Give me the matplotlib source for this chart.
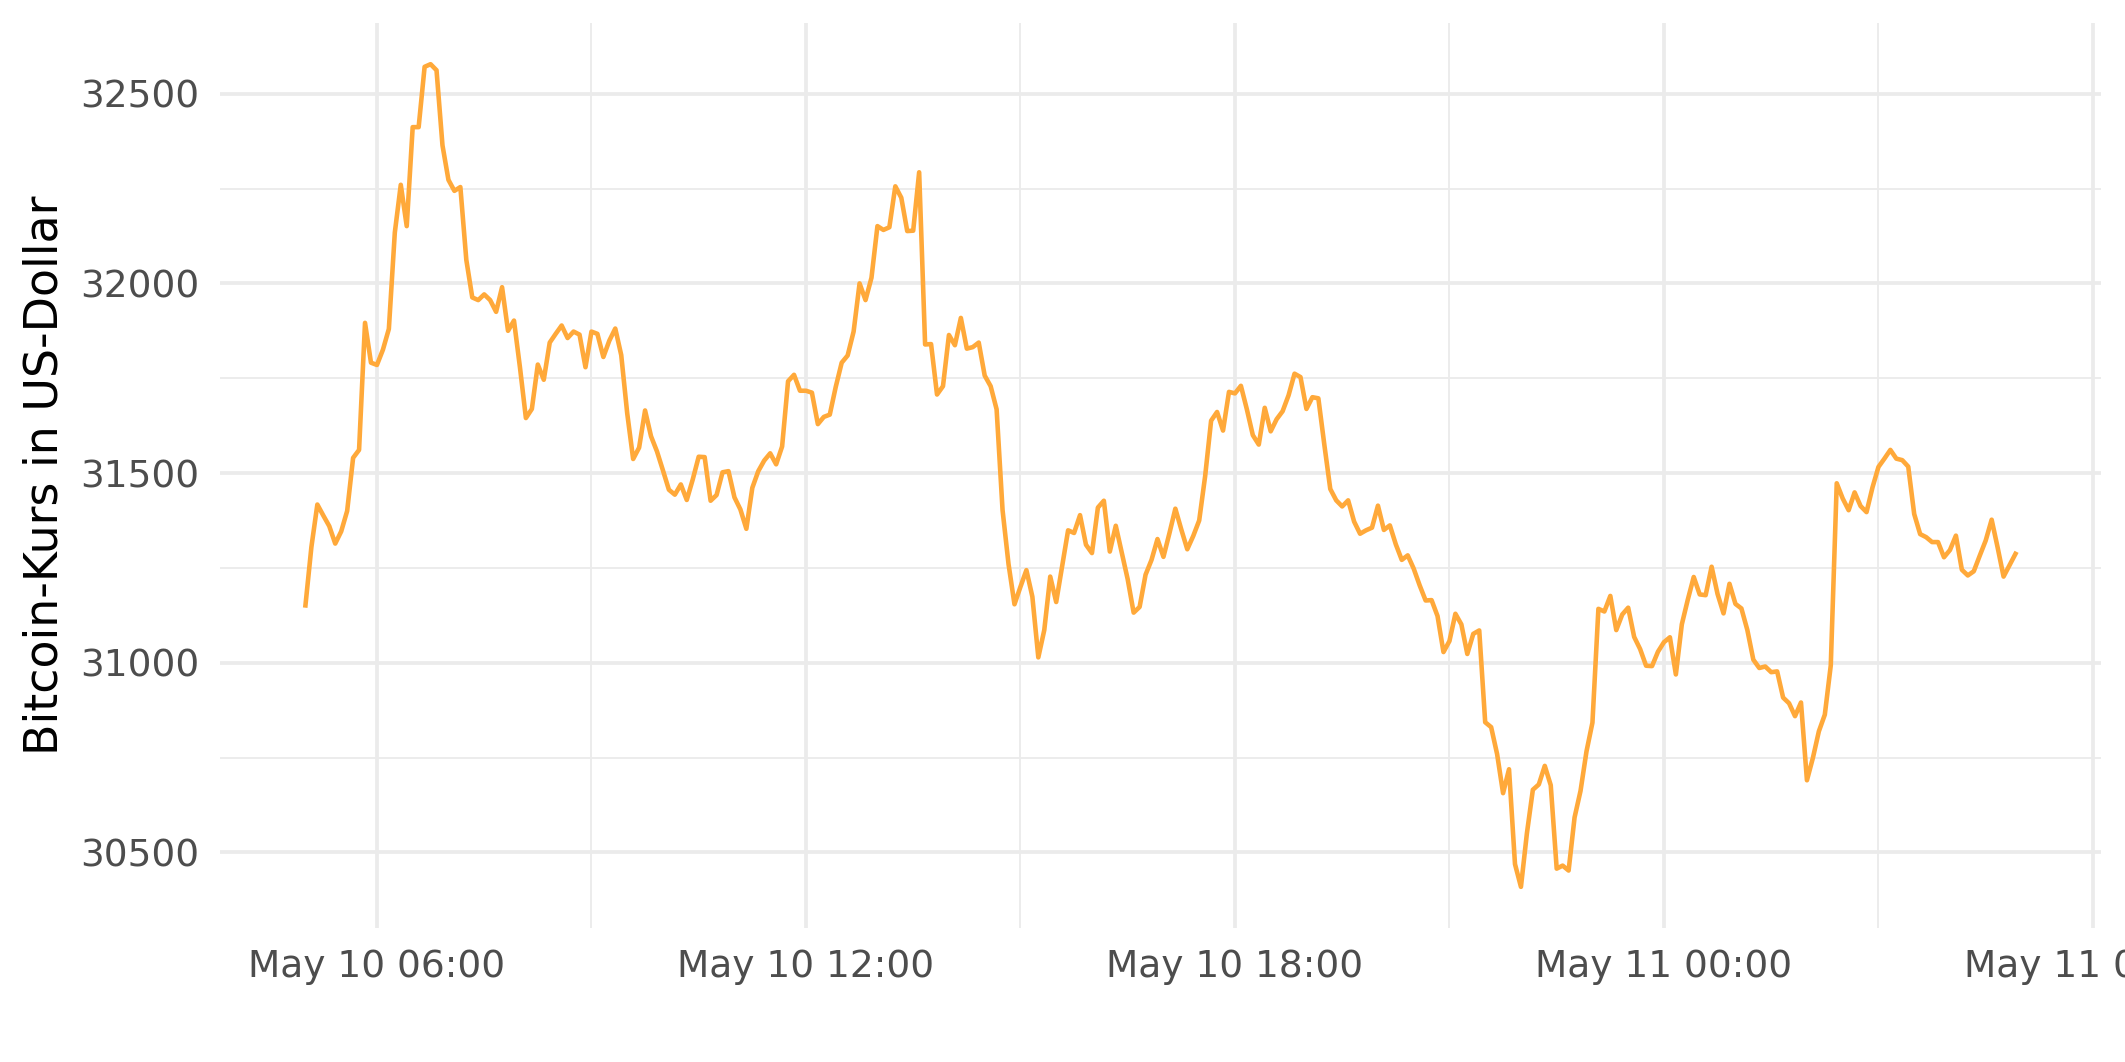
import numpy as np
import pandas as pd
import matplotlib
matplotlib.use("Agg")
import matplotlib.pyplot as plt
import matplotlib.dates as mdates

# Bitcoin-Kurs, 5-Minuten-Werte ab 10. Mai 05:00
start = "2022-05-10 05:00"
kurs = [
    31151, 31305, 31417, 31388, 31360, 31314, 31346, 31400, 31540, 31561,
    31896, 31791, 31785, 31825, 31880, 32134, 32260, 32151, 32412, 32412,
    32571, 32578, 32562, 32364, 32273, 32244, 32254, 32062, 31963, 31956,
    31971, 31956, 31925, 31990, 31875, 31902, 31779, 31645, 31669, 31786,
    31746, 31844, 31867, 31889, 31856, 31873, 31865, 31779, 31873, 31867,
    31806, 31849, 31881, 31811, 31658, 31537, 31567, 31665, 31597, 31557,
    31507, 31456, 31443, 31470, 31429, 31483, 31543, 31542, 31427, 31442,
    31502, 31505, 31436, 31404, 31353, 31461, 31505, 31533, 31552, 31523,
    31570, 31742, 31759, 31717, 31717, 31712, 31629, 31648, 31654, 31727,
    31791, 31810, 31873, 32000, 31956, 32015, 32151, 32141, 32148, 32256,
    32226, 32138, 32139, 32293, 31839, 31840, 31707, 31729, 31864, 31837,
    31909, 31828, 31832, 31844, 31757, 31729, 31668, 31402, 31260, 31154,
    31200, 31244, 31174, 31014, 31086, 31227, 31160, 31255, 31349, 31342,
    31389, 31311, 31289, 31409, 31427, 31293, 31361, 31291, 31220, 31132,
    31147, 31232, 31271, 31326, 31279, 31341, 31406, 31351, 31299, 31334,
    31375, 31492, 31638, 31661, 31612, 31714, 31710, 31730, 31668, 31600,
    31575, 31672, 31610, 31642, 31663, 31705, 31762, 31753, 31669, 31700,
    31697, 31575, 31458, 31428, 31412, 31428, 31372, 31340, 31349, 31356,
    31414, 31350, 31362, 31312, 31271, 31283, 31248, 31204, 31164, 31165,
    31123, 31028, 31057, 31129, 31101, 31023, 31076, 31085, 30843, 30830,
    30759, 30656, 30719, 30469, 30409, 30550, 30665, 30679, 30728, 30677,
    30457, 30465, 30452, 30592, 30662, 30766, 30842, 31142, 31135, 31176,
    31086, 31127, 31145, 31068, 31036, 30992, 30991, 31029, 31054, 31067,
    30969, 31101, 31166, 31226, 31180, 31178, 31253, 31181, 31130, 31208,
    31155, 31143, 31086, 31008, 30986, 30990, 30975, 30977, 30908, 30893,
    30859, 30895, 30690, 30749, 30819, 30863, 30993, 31473, 31433, 31402,
    31449, 31413, 31397, 31462, 31516, 31538, 31561, 31538, 31534, 31517,
    31392, 31339, 31331, 31318, 31318, 31278, 31297, 31335, 31245, 31230,
    31241, 31282, 31322, 31377, 31304, 31227, 31257, 31287,
]
zeit = pd.date_range(start, periods=len(kurs), freq="5min")

fig = plt.figure(figsize=(2125/300, 1062/300), dpi=300)
ax = fig.add_axes([0.1035, 0.1262, 0.8852, 0.8521])

ax.plot(zeit, kurs, color="#FFA93A", lw=1.1)

# ggplot-artige Achsengrenzen (5% Rand)
t0 = mdates.date2num(zeit[0])
t1 = mdates.date2num(zeit[-1])
ax.set_xlim(t0 - 0.05*(t1 - t0), t1 + 0.05*(t1 - t0))
lo, hi = min(kurs), max(kurs)
ax.set_ylim(lo - 0.05*(hi - lo), hi + 0.05*(hi - lo))

ax.xaxis.set_major_locator(mdates.HourLocator(byhour=[0, 6, 12, 18]))
ax.xaxis.set_minor_locator(mdates.HourLocator(byhour=[3, 9, 15, 21]))
ax.xaxis.set_major_formatter(mdates.DateFormatter("%b %d %H:%M"))
ax.set_yticks([30500, 31000, 31500, 32000, 32500])
ax.set_yticks([30750, 31250, 31750, 32250], minor=True)

ax.grid(which="major", color="#EBEBEB", lw=0.9)
ax.grid(which="minor", color="#EBEBEB", lw=0.45)
ax.set_axisbelow(True)
for s in ax.spines.values():
    s.set_visible(False)
ax.tick_params(which="both", length=0)
ax.tick_params(axis="both", labelsize=9, labelcolor="#4D4D4D", pad=5)

ax.set_ylabel("Bitcoin-Kurs in US-Dollar", fontsize=11, color="black", labelpad=3)

fig.savefig("out.png", dpi=300)
